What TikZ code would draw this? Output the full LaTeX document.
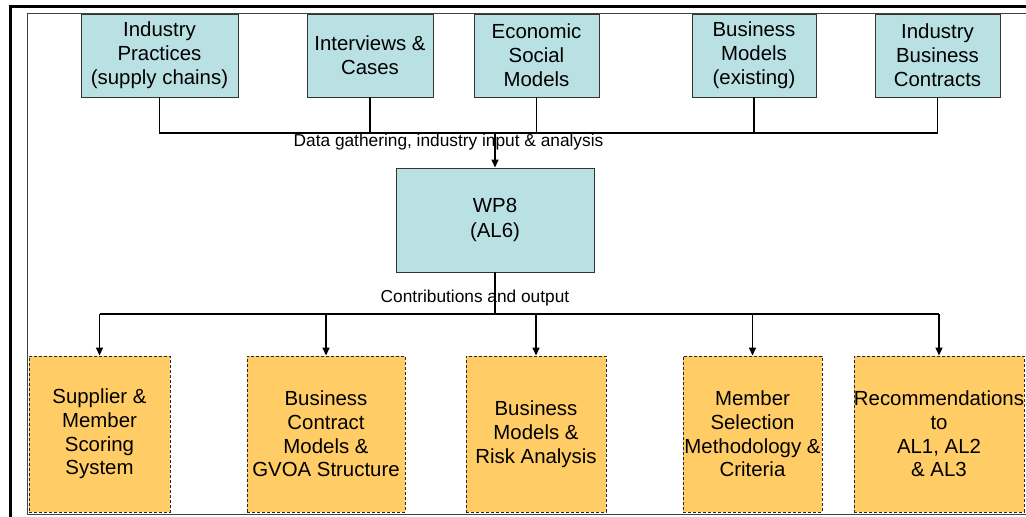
\documentclass[tikz,border=0pt]{standalone}
\usepackage{fontspec}
\setmainfont{Liberation Sans}
\usetikzlibrary{arrows.meta}
\definecolor{inputfill}{RGB}{185,224,227}
\definecolor{outputfill}{RGB}{255,204,102}
\tikzset{
  inbox/.style={draw=black!80, line width=0.9pt, fill=inputfill, inner sep=0pt,
    align=center, font=\fontsize{20.4}{24.2}\selectfont},
  outbox/.style={draw=black!85, dashed, dash pattern=on 3pt off 2pt, line width=0.9pt,
    fill=outputfill, inner sep=0pt, align=center, minimum height=156pt,
    font=\fontsize{20.4}{23.8}\selectfont},
  lbl/.style={inner sep=0pt, font=\fontsize{17.3}{20}\selectfont},
  wire/.style={line width=1.4pt, black},
  arr/.style={wire, -{Triangle[length=8pt,width=7pt]}}
}
\begin{document}
\begin{tikzpicture}[x=1pt,y=-1pt]
\useasboundingbox (0,0) rectangle (1026,517);

% outer and inner frames (run past the page edge)
\draw[line width=3pt] (10,540) -- (10,6) -- (1040,6);
\draw[line width=1pt, black!75] (1040,514) -- (27,514) -- (27,13) -- (1040,13);

% input boxes
\node[inbox, minimum width=157pt, minimum height=83pt] (t1) at (159.5,55.5) {Industry\\Practices\\(supply chains)};
\node[inbox, minimum width=126pt, minimum height=83pt] (t2) at (370,55.5) {Interviews \&\\Cases};
\node[inbox, minimum width=125pt, minimum height=83pt] (t3) at (536.5,55.5) {Economic\\Social\\Models};
\node[inbox, minimum width=124pt, minimum height=83pt] (t4) at (754,55.5) {Business\\Models\\(existing)};
\node[inbox, minimum width=125pt, minimum height=83pt] (t5) at (937.5,55.5) {Industry\\Business\\Contracts};

% work package
\node[inbox, minimum width=198pt, minimum height=104pt] (wp) at (495,220) {WP8\\(AL6)};

% output boxes
\node[outbox, minimum width=141pt] (b1) at (99.5,434) {Supplier \&\\Member\\Scoring\\System};
\node[outbox, minimum width=158pt] (b2) at (326,434) {Business\\Contract\\Models \&\\GVOA Structure};
\node[outbox, minimum width=140pt] (b3) at (536,434) {Business\\Models \&\\Risk Analysis};
\node[outbox, minimum width=139pt] (b4) at (752.5,434) {Member\\Selection\\Methodology \&\\Criteria};
\node[outbox, minimum width=166pt] (b5) at (939,434) {Recommendations\\to\\AL1, AL2\\\& AL3};

% input bus
\coordinate (gather) at (495,133);
\draw[wire] (t1.south) |- (gather) -| (t5.south);
\draw[wire] (t2.south) -- (t2.south |- gather);
\draw[wire] (t3.south) -- (t3.south |- gather);
\draw[wire] (t4.south) -- (t4.south |- gather);
\draw[arr] (gather) -- (wp.north);
\node[lbl] (lgather) at (448.5,142.5) {Data gathering, industry input \& analysis};

% output bus
\coordinate (contrib) at (495,314);
\draw[wire] (wp.south) -- (contrib);
\draw[wire] (b1.north |- contrib) -- (b5.north |- contrib);
\foreach \b in {b1,b2,b3,b4,b5}
  \draw[arr] (\b.north |- contrib) -- (\b.north);
\node[lbl] (lcontrib) at (475,298.5) {Contributions and output};
\end{tikzpicture}
\end{document}
